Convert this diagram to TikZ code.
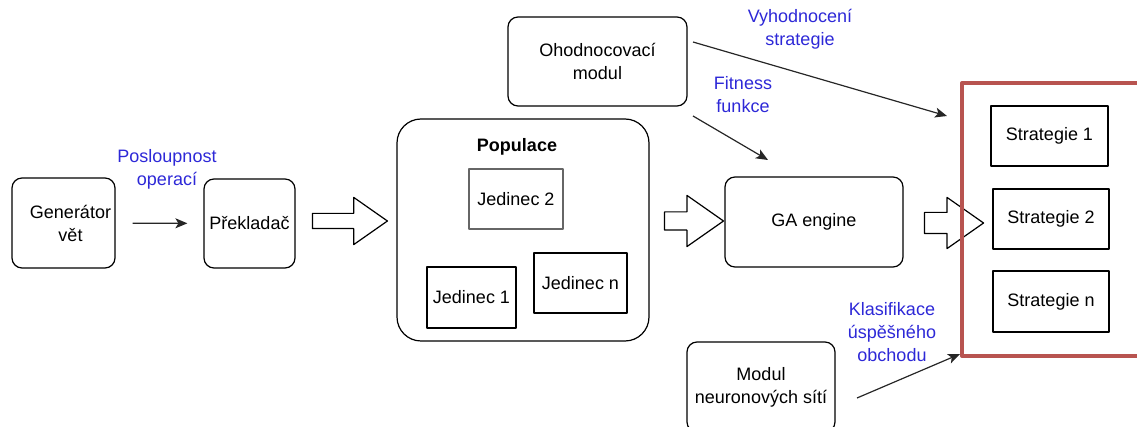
\documentclass[tikz,border=0pt]{standalone}
\usepackage{fontspec}
\setmainfont{Liberation Sans}
\usetikzlibrary{arrows.meta,shapes.arrows,positioning}
\definecolor{lblblue}{RGB}{45,40,215}
\definecolor{framered}{RGB}{184,84,80}
\begin{document}
\begin{tikzpicture}[x=0.5pt,y=-0.5pt, font=\fontsize{9}{11.5}\selectfont, line join=round, >={Stealth[length=6pt,width=5pt,inset=1.5pt]},
	rbox/.style={draw, rounded corners=5pt, line width=0.6pt, align=center, inner sep=0pt},
	sbox/.style={draw, line width=0.6pt, align=center, inner sep=0pt, minimum height=30pt},
	lbl/.style={text=lblblue, align=center, inner sep=0pt},
	conn/.style={->, line width=0.6pt, draw=black!85},
	blk/.style={draw, line width=0.6pt, single arrow, single arrow tip angle=70, inner xsep=0pt, minimum height=29.5pt}]
	\useasboundingbox (0,0) rectangle (1137,427);
	% levy okraj
	\node[rbox, minimum width=51.5pt, minimum height=45pt] (gen) at (63.5,223) {\hspace{7pt}Generátor\\\hspace{7pt}vět};
	\node[rbox, minimum width=45.5pt, minimum height=44.5pt] (prek) at (249.5,223.5) {Překladač};
	\draw[conn, shorten <=8.5pt, shorten >=8pt] (gen) -- (prek);
	\node[lbl] (lposl) at (167,169) {Posloupnost\\operací};
	\node[blk, inner ysep=3.5pt, single arrow head extend=8pt, minimum height=37.5pt] (ba1) at (344.5,221) {};
	% populace
	\node[rbox, rounded corners=12pt, minimum width=126pt, minimum height=111pt] (pop) at (523,230) {};
	\node[font=\fontsize{9}{11.5}\selectfont\bfseries, inner sep=0pt] (poptit) at (517,147) {Populace};
	\node[sbox, draw=black!60, line width=0.9pt, minimum width=47pt] (jed2) at (516,199) {Jedinec 2};
	\node[sbox, minimum width=44.5pt, minimum height=30.5pt] (jed1) at (471.5,297.5) {Jedinec 1};
	\node[sbox, minimum width=46.5pt] (jedn) at (580.5,283) {Jedinec n};
	\node[blk, inner ysep=4.25pt, single arrow head extend=8.25pt] (ba2) at (687.5,221) {};
	% GA a moduly
	\node[rbox, minimum width=89pt, minimum height=45pt] (ga) at (814,222) {GA engine};
	\node[rbox, minimum width=89.5pt, minimum height=44.5pt] (ohod) at (597.5,61.5) {Ohodnocovací\\modul};
	\node[rbox, minimum width=74pt, minimum height=45pt] (neur) at (761,387) {Modul\\neuronových sítí};
	\node[blk, inner ysep=5pt, single arrow head extend=7.5pt] (ba3) at (946.5,223) {};
	% strategie
	\draw[framered, line width=2pt] (1145,83) -- (962,83) -- (962,356) -- (1145,356);
	\node[sbox, minimum width=58.5pt] (str1) at (1049.5,136) {Strategie 1};
	\node[sbox, minimum width=58pt] (str2) at (1051,219) {Strategie 2};
	\node[sbox, minimum width=58pt, minimum height=30.5pt] (strn) at (1051,301.5) {Strategie n};
	% spojnice
	\coordinate (vyhs) at (693,42);
	\coordinate (vyhe) at (947,116);
	\coordinate (fits) at (693,116);
	\coordinate (fite) at (768,160);
	\coordinate (klas) at (857,398);
	\coordinate (klae) at (960,354);
	\draw[conn] (vyhs) -- (vyhe);
	\draw[conn] (fits) -- (fite);
	\draw[conn] (klas) -- (klae);
	\node[lbl] (lvyh) at (800,29.5) {Vyhodnocení\\strategie};
	\node[lbl] (lfit) at (743,95) {Fitness\\funkce};
	\node[lbl] (lkla) at (892,332.5) {Klasifikace\\úspěšného\\obchodu};
\end{tikzpicture}
\end{document}
